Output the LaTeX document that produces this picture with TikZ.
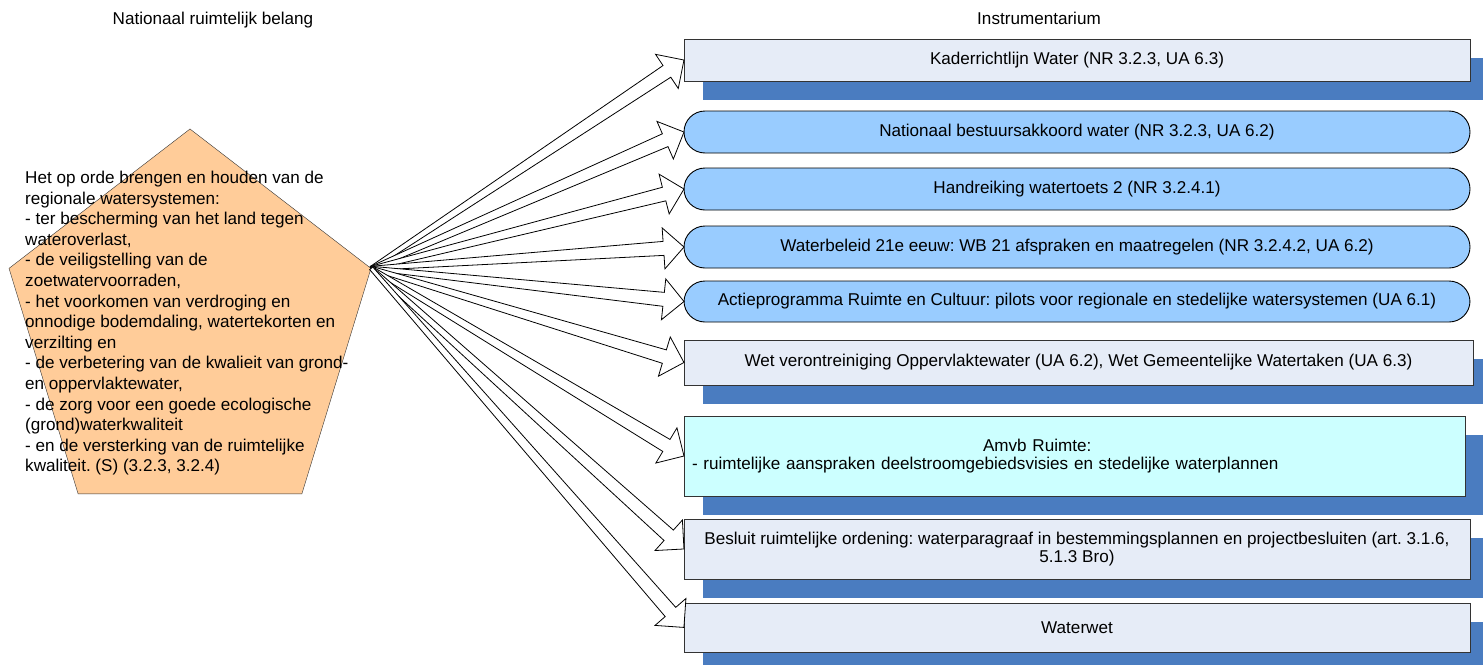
\documentclass[tikz,border=0pt]{standalone}
\usepackage{fontspec}
\setmainfont{Liberation Sans}
\usetikzlibrary{shapes.geometric,positioning,calc,shadows}
\definecolor{oranjevlak}{HTML}{FFCC99}
\definecolor{grijsblauw}{HTML}{E6ECF7}
\definecolor{lichtblauw}{HTML}{99CCFF}
\definecolor{lichtcyaan}{HTML}{CCFFFF}
\definecolor{schaduw}{HTML}{4A7CC0}
\frenchspacing

\begin{document}
\begin{tikzpicture}[
    x=1pt, y=-1pt,
    every node/.style={font=\fontsize{17.1pt}{18pt}\selectfont, align=center},
    vijfhoek/.style={regular polygon, regular polygon sides=5, minimum size=380.6pt, inner sep=0pt, draw=black!80, fill=oranjevlak},
    instr/.style={rectangle, draw=black!80, line width=0.9pt, outer sep=0pt, fill=grijsblauw, minimum width=786pt, drop shadow={shadow xshift=19pt, shadow yshift=-19pt, fill=schaduw, opacity=1}},
    rondinstr/.style={rectangle, rounded corners=21pt, draw=black, line width=0.9pt, outer sep=0pt, fill=lichtblauw, minimum width=786pt, minimum height=42pt},
    pijl/.style={draw=black, fill=white, line width=0.8pt, line join=miter}
]
    \useasboundingbox (0,0) rectangle (1483,664);

    \node (kopbelang) at (213,20) {Nationaal ruimtelijk belang};
    \node (kopinstr) at (1039,18) {Instrumentarium};

    \begin{scope}[shift={(190,330.7)}, yscale=1.06]
        \node[vijfhoek, transform shape] (belang) at (0,0) {};
    \end{scope}
    \node[anchor=north west, align=left, inner sep=0pt, font=\fontsize{17.1pt}{20.6pt}\selectfont] (belangtekst) at (25,171) {Het op orde brengen en houden van de\\regionale watersystemen:\\- ter bescherming van het land tegen\\wateroverlast,\\- de veiligstelling van de\\zoetwatervoorraden,\\- het voorkomen van verdroging en\\onnodige bodemdaling, watertekorten en\\verzilting en\\- de verbetering van de kwalieit van grond-\\en oppervlaktewater,\\- de zorg voor een goede ecologische\\(grond)waterkwaliteit\\- en de versterking van de ruimtelijke\\kwaliteit. (S) (3.2.3, 3.2.4)};

    \node[instr, minimum height=42pt, anchor=north west] (kader) at (684,39) {Kaderrichtlijn Water (NR 3.2.3, UA 6.3)};
    \node[rondinstr, below=30pt of kader.south west, anchor=north west] (akkoord) {Nationaal bestuursakkoord water (NR 3.2.3, UA 6.2)};
    \node[rondinstr, below=15pt of akkoord.south west, anchor=north west] (toets) {Handreiking watertoets 2 (NR 3.2.4.1)};
    \node[rondinstr, below=16pt of toets.south west, anchor=north west] (wb) {Waterbeleid 21e eeuw: WB 21 afspraken en maatregelen (NR 3.2.4.2, UA 6.2)};
    \node[rondinstr, minimum height=41pt, below=13pt of wb.south west, anchor=north west] (actie) {Actieprogramma Ruimte en Cultuur: pilots voor regionale en stedelijke watersystemen (UA 6.1)};
    \node[instr, minimum width=789pt, minimum height=45pt, below=18pt of actie.south west, anchor=north west] (wvo) {Wet verontreiniging Oppervlaktewater (UA 6.2), Wet Gemeentelijke Watertaken (UA 6.3)};
    \node[instr, fill=lichtcyaan, minimum width=781pt, minimum height=80pt, text width=765pt, align=left, below=31pt of wvo.south west, anchor=north west] (amvb) {\hspace*{291pt}Amvb Ruimte:\\- ruimtelijke aanspraken deelstroomgebiedsvisies en stedelijke waterplannen};
    \node[instr, minimum height=60pt, below=23pt of amvb.south west, anchor=north west] (bro) {Besluit ruimtelijke ordening: waterparagraaf in bestemmingsplannen en projectbesluiten (art. 3.1.6,\\5.1.3 Bro)};
    \node[instr, minimum height=49pt, below=24pt of bro.south west, anchor=north west] (waterwet) {Waterwet};

    \coordinate (bron) at (belang.corner 5);
    \foreach \doel in {kader,akkoord,toets,wb,actie,wvo,amvb,bro,waterwet}
        \filldraw[pijl] let \p1=(bron), \p2=(\doel.west), \n1={atan2(\y2-\y1,\x2-\x1)}, \n2={veclen(\x2-\x1,\y2-\y1)} in
            [shift={(\p1)}, rotate=\n1] (0pt,2pt) -- (\n2*1pt-20.5pt,7pt) -- (\n2*1pt-20.5pt,20.5pt) -- (\n2*1pt,0pt)
            -- (\n2*1pt-20.5pt,-20.5pt) -- (\n2*1pt-20.5pt,-7pt) -- (0pt,-2pt) -- cycle;
\end{tikzpicture}
\end{document}
